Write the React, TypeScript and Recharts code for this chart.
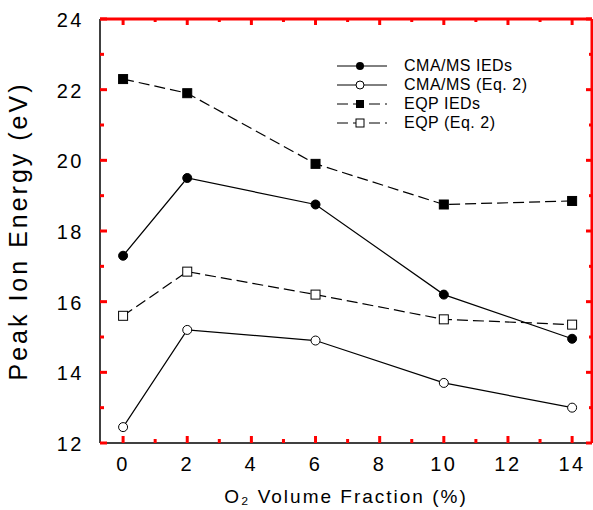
import React from 'react';
import {
    LineChart,
    Line,
    XAxis,
    YAxis,
    Legend,
} from 'recharts';

// O2 volume fraction (%)
const fractions = [0, 2, 6, 10, 14];
// peak ion energy (eV) per series
const cmaIeds = [17.3, 19.5, 18.75, 16.2, 14.95];
const cmaEq2 = [12.45, 15.2, 14.9, 13.7, 13.0];
const eqpIeds = [22.3, 21.9, 19.9, 18.75, 18.85];
const eqpEq2 = [15.6, 16.85, 16.2, 15.5, 15.35];

const xTicks = [0, 1, 2, 3, 4, 5, 6, 7, 8, 9, 10, 11, 12, 13, 14];
const yTicks = [12, 13, 14, 15, 16, 17, 18, 19, 20, 21, 22, 23, 24];

const data = fractions.map((x, i) => ({
    x,
    cmaIeds: cmaIeds[i],
    cmaEq2: cmaEq2[i],
    eqpIeds: eqpIeds[i],
    eqpEq2: eqpEq2[i],
}));

// layout
const W = 593;
const H = 510;
const M_TOP = 19;
const M_RIGHT = 1;
const Y_AXIS_W = 100;
const X_AXIS_H = 67;
const PLOT_LEFT = Y_AXIS_W;
const PLOT_RIGHT = W - M_RIGHT;
const PLOT_TOP = M_TOP;
const PLOT_BOTTOM = H - X_AXIS_H;

const FONT = '"Liberation Sans", Arial, Helvetica, sans-serif';

// diagnostic colour for frame pieces drawn inside tick components
const FRAME = 'red';

const BottomTick = (props: any) => {
    const { x, y, payload } = props;
    const major = payload.value % 2 === 0;
    const len = major ? 7 : 4;
    return (
        <g>
            {payload.value === 0 && (
                <path d={`M${PLOT_LEFT},${PLOT_TOP}H${PLOT_RIGHT}`} stroke={FRAME} strokeWidth={3} fill="none" />
            )}
            <path d={`M${x},${y}V${y - len}`} stroke={FRAME} strokeWidth={3} fill="none" />
            <path d={`M${x},${PLOT_TOP}V${PLOT_TOP + (major ? 6 : 3)}`} stroke={FRAME} strokeWidth={3} fill="none" />
            {major && (
                <text x={x} y={y + 28} textAnchor="middle" fontSize={20} letterSpacing={2.5} fontFamily={FONT} fill="#000">
                    {payload.value}
                </text>
            )}
        </g>
    );
};

const LeftTick = (props: any) => {
    const { x, y, payload } = props;
    const major = payload.value % 2 === 0;
    const len = major ? 7 : 4;
    return (
        <g>
            {payload.value === 12 && (
                <path d={`M${PLOT_RIGHT},${PLOT_TOP}V${PLOT_BOTTOM}`} stroke={FRAME} strokeWidth={3} fill="none" />
            )}
            <path d={`M${x},${y}H${x + len}`} stroke={FRAME} strokeWidth={3} fill="none" />
            <path d={`M${PLOT_RIGHT},${y}H${PLOT_RIGHT - (major ? 6 : 3)}`} stroke={FRAME} strokeWidth={3} fill="none" />
            {major && (
                <text x={x - 16} y={y + 8} textAnchor="end" fontSize={20} letterSpacing={2.5} fontFamily={FONT} fill="#000">
                    {payload.value}
                </text>
            )}
        </g>
    );
};

const FilledSquare = (props: any) => (
    <rect key={`fs-${props.index}`} x={props.cx - 4.5} y={props.cy - 4.5} width={9} height={9} fill="#000" stroke="#000" />
);

const OpenSquare = (props: any) => (
    <rect key={`os-${props.index}`} x={props.cx - 4.5} y={props.cy - 4.5} width={9} height={9} fill="#fff" stroke="#000" strokeWidth={1} />
);

const legendItems = [
    { label: 'CMA/MS IEDs', dash: undefined, marker: 'filledCircle' },
    { label: 'CMA/MS (Eq. 2)', dash: undefined, marker: 'openCircle' },
    { label: 'EQP IEDs', dash: '11 5', marker: 'filledSquare' },
    { label: 'EQP (Eq. 2)', dash: '11 5', marker: 'openSquare' },
];

const renderLegend = () => (
    <div style={{ fontFamily: FONT }}>
        {legendItems.map((item) => (
            <div key={item.label} style={{ display: 'flex', alignItems: 'center', height: 19 }}>
                <svg width={52} height={14} style={{ display: 'block' }}>
                    <line x1={1} x2={51} y1={7} y2={7} stroke="#000" strokeWidth={1} strokeDasharray={item.dash} />
                    {item.marker === 'filledCircle' && <circle cx={24} cy={7} r={4} fill="#000" />}
                    {item.marker === 'openCircle' && <circle cx={24} cy={7} r={4} fill="#fff" stroke="#000" />}
                    {item.marker === 'filledSquare' && <rect x={20} y={3} width={8} height={8} fill="#000" />}
                    {item.marker === 'openSquare' && <rect x={20} y={3} width={8} height={8} fill="#fff" stroke="#000" />}
                </svg>
                <span style={{ fontSize: 16, letterSpacing: 0.5, marginLeft: 16, color: '#000', whiteSpace: 'nowrap' }}>
                    {item.label}
                </span>
            </div>
        ))}
    </div>
);

export default function App() {
    return (
        <div style={{ position: 'absolute', left: 0, top: 0, background: '#fff' }}>
            <LineChart
                width={W}
                height={H}
                data={data}
                margin={{ top: M_TOP, right: M_RIGHT, left: 0, bottom: 0 }}
            >
                <XAxis
                    dataKey="x"
                    type="number"
                    domain={[-0.72, 14.62]}
                    ticks={xTicks}
                    interval={0}
                    allowDataOverflow
                    height={X_AXIS_H}
                    tickLine={false}
                    tickSize={0}
                    tickMargin={0}
                    tick={BottomTick}
                    axisLine={{ stroke: '#000', strokeWidth: 1.5 }}
                    label={{
                        value: 'O₂ Volume Fraction (%)',
                        position: 'insideBottom',
                        offset: 7,
                        fontSize: 19,
                        letterSpacing: 2,
                        fontFamily: FONT,
                        fill: '#000',
                    }}
                />
                <YAxis
                    type="number"
                    domain={[12, 24]}
                    ticks={yTicks}
                    interval={0}
                    allowDataOverflow
                    width={Y_AXIS_W}
                    tickLine={false}
                    tickSize={0}
                    tickMargin={0}
                    tick={LeftTick}
                    axisLine={{ stroke: '#000', strokeWidth: 1.5 }}
                    label={{
                        value: 'Peak Ion Energy (eV)',
                        angle: -90,
                        position: 'insideLeft',
                        offset: 18,
                        fontSize: 25,
                        letterSpacing: 3,
                        fontFamily: FONT,
                        fill: '#000',
                        style: { textAnchor: 'middle' },
                    }}
                />
                <Legend
                    content={renderLegend}
                    layout="vertical"
                    align="center"
                    verticalAlign="middle"
                    wrapperStyle={{ top: 56, left: 336, width: 240 }}
                />
                <Line
                    dataKey="eqpIeds"
                    stroke="#000"
                    strokeWidth={1.2}
                    strokeDasharray="11 5"
                    dot={FilledSquare}
                    isAnimationActive={false}
                />
                <Line
                    dataKey="eqpEq2"
                    stroke="#000"
                    strokeWidth={1.2}
                    strokeDasharray="11 5"
                    dot={OpenSquare}
                    isAnimationActive={false}
                />
                <Line
                    dataKey="cmaIeds"
                    stroke="#000"
                    strokeWidth={1.2}
                    dot={{ r: 4.5, fill: '#000', stroke: '#000', strokeWidth: 1 }}
                    isAnimationActive={false}
                />
                <Line
                    dataKey="cmaEq2"
                    stroke="#000"
                    strokeWidth={1.2}
                    dot={{ r: 4.5, fill: '#fff', stroke: '#000', strokeWidth: 1 }}
                    isAnimationActive={false}
                />
            </LineChart>
        </div>
    );
}
